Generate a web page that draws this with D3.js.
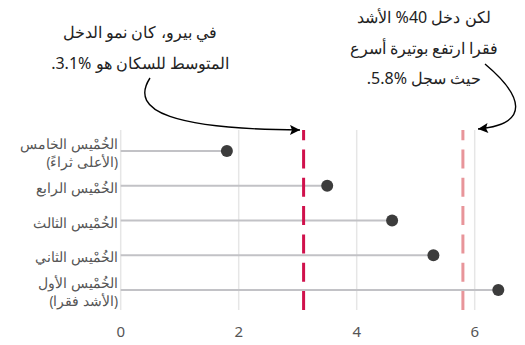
<!DOCTYPE html>
<html><head><meta charset="utf-8">
<script src="https://cdn.jsdelivr.net/npm/d3@7"></script>
<style>
html,body{margin:0;padding:0;background:#fff;}
svg{display:block;font-family:"Noto Sans","Open Sans",sans-serif;}
</style></head>
<body>
<svg id="c" width="525" height="345"></svg>
<script>
const categories = [
  ["الخُمْيس الخامس", "(الأعلى ثراءً)"],
  ["الخُمْيس الرابع"],
  ["الخُمْيس الثالث"],
  ["الخُمْيس الثاني"],
  ["الخُمْيس الأول", "(الأشد فقرا)"]
];
const values = [1.8, 3.5, 4.6, 5.3, 6.4];
const averageGrowth = 3.1;
const bottom40Growth = 5.8;
const xTicks = [0, 2, 4, 6];
const noteLeft = ["في بيرو، كان نمو الدخل", "المتوسط للسكان هو %3.1."];
const noteRight = ["لكن دخل 40% الأشد", "فقرا ارتفع بوتيرة أسرع", "حيث سجل %5.8."];

const svg = d3.select("#c");
const x = d3.scaleLinear().domain([0, 6.5]).range([120.7, 504.2]);
const y = d3.scalePoint().domain(d3.range(categories.length)).range([151, 290]);
const plotTop = 130, plotBot = 310;

// grid
svg.append("g").selectAll("line").data(xTicks).join("line")
  .attr("x1", d => x(d)).attr("x2", d => x(d))
  .attr("y1", plotTop).attr("y2", plotBot)
  .attr("stroke", "#e6e6e6").attr("stroke-width", 1.5);

// tick labels
svg.append("g").selectAll("text").data(xTicks).join("text")
  .attr("x", d => x(d)).attr("y", 331)
  .attr("text-anchor", "middle").attr("dominant-baseline", "central")
  .attr("font-size", 15).attr("fill", "#555").text(d => d);

// stems
svg.append("g").selectAll("line").data(values).join("line")
  .attr("x1", x(0)).attr("x2", d => x(d))
  .attr("y1", (d, i) => y(i)).attr("y2", (d, i) => y(i))
  .attr("stroke", "#c2c2c6").attr("stroke-width", 2);

// reference lines
[[averageGrowth, "#d0114c"], [bottom40Growth, "#e8959a"]].forEach(([v, c]) => {
  svg.append("line")
    .attr("x1", x(v)).attr("x2", x(v)).attr("y1", plotBot).attr("y2", plotTop)
    .attr("stroke", c).attr("stroke-width", 3).attr("stroke-dasharray", "19 9.3");
});

// dots
svg.append("g").selectAll("circle").data(values).join("circle")
  .attr("cx", d => x(d)).attr("cy", (d, i) => y(i)).attr("r", 6)
  .attr("fill", "#3c3c3c");

// category labels
const lab = svg.append("g").selectAll("text").data(categories).join("text")
  .attr("x", 118).attr("text-anchor", "start").attr("direction", "rtl")
  .attr("font-size", 13.5).attr("fill", "#555");
lab.each(function(d, i) {
  const t = d3.select(this);
  const base = d.length === 1 ? y(i) + 2 : y(i) - 7;
  d.forEach((s, j) => {
    t.append("tspan").attr("x", 118).attr("y", base + j * 18)
      .attr("dominant-baseline", "central").text(s);
  });
});

// annotations
function note(lines, cx, y0, dy) {
  const t = svg.append("text").attr("text-anchor", "middle").attr("direction", "rtl")
    .attr("font-size", 16).attr("fill", "#222");
  lines.forEach((s, j) => t.append("tspan").attr("x", cx).attr("y", y0 + j * dy)
    .attr("dominant-baseline", "central").text(s));
}
note(noteLeft, 140, 32, 31);
note(noteRight, 424, 17, 30.5);

// arrows
const defs = svg.append("defs");
defs.append("marker").attr("id", "ah").attr("viewBox", "0 0 10 10")
  .attr("refX", 10).attr("refY", 5).attr("markerWidth", 14).attr("markerHeight", 10)
  .attr("markerUnits", "userSpaceOnUse").attr("orient", "auto")
  .append("path").attr("d", "M0,0 L10,5 L0,10 L2,5 Z").attr("fill", "#000");

svg.append("path").attr("d", "M150,78 C128,112 175,129 300,130")
  .attr("fill", "none").attr("stroke", "#000").attr("stroke-width", 1.4)
  .attr("marker-end", "url(#ah)");
svg.append("path").attr("d", "M485,64 C522,95 532,124 478,129")
  .attr("fill", "none").attr("stroke", "#000").attr("stroke-width", 1.4)
  .attr("marker-end", "url(#ah)");
</script>
</body></html>
